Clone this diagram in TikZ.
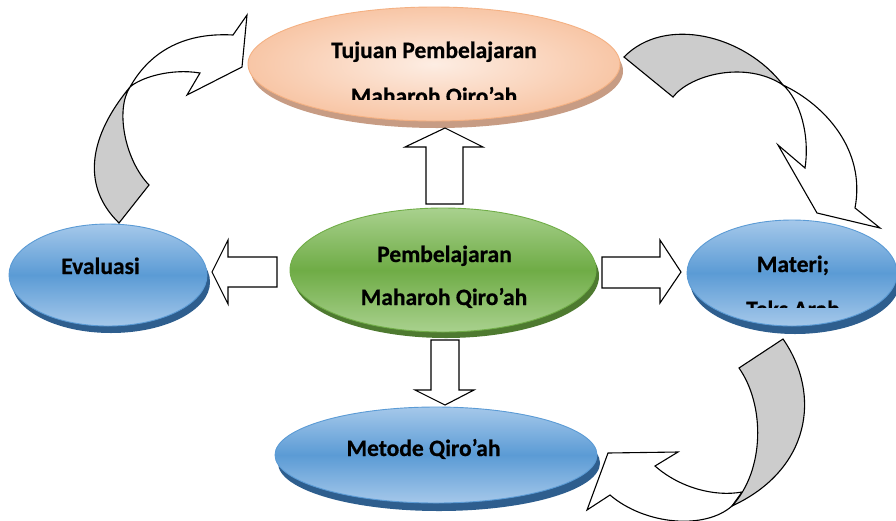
\documentclass[tikz,border=0pt]{standalone}
\usepackage{fontspec}
\setmainfont{Carlito}[BoldFeatures={FakeBold=0.6}]
\usetikzlibrary{shapes.geometric}
\definecolor{bTop}{HTML}{A5C8EA}
\definecolor{bMid}{HTML}{5B9BD5}
\definecolor{bLine}{HTML}{5B9BD5}
\definecolor{bShadow}{HTML}{2E5E8E}
\definecolor{gTop}{HTML}{A9D18E}
\definecolor{gMid}{HTML}{6FAC46}
\definecolor{gLine}{HTML}{70AD47}
\definecolor{gShadow}{HTML}{4E7A30}
\definecolor{pIn}{HTML}{FDEDE3}
\definecolor{pOut}{HTML}{F8C6A6}
\definecolor{pLine}{HTML}{F4B183}
\definecolor{pShadow}{HTML}{C79C84}
\definecolor{arrGray}{HTML}{CCCCCC}
\begin{document}
\begin{tikzpicture}[x=1pt,y=-1pt,
  ell/.style={ellipse, inner sep=0pt, line width=0.9pt},
  bluefill/.style={top color=bTop, bottom color=bTop, middle color=bMid, draw=bLine},
  greenfill/.style={top color=gTop, bottom color=gTop, middle color=gMid, draw=gLine},
  peachfill/.style={inner color=pIn, outer color=pOut, draw=pLine},
  shad/.style={ellipse, inner sep=0pt, draw=none},
  lbl/.style={font=\fontsize{23.5}{28}\selectfont\bfseries, inner sep=0pt, anchor=base, text=black},
  blk/.style={draw=black, fill=white, line width=1.1pt, line join=miter},
  curvw/.style={draw=black, fill=white, line width=1.1pt, line join=miter},
  curvg/.style={draw=black, fill=arrGray, line width=1.1pt, line join=miter}]
\useasboundingbox (0,0) rectangle (896,520);
\fill[white] (0,0) rectangle (896,520);

% ---- shadows ----
\node[shad, fill=pShadow, minimum width=372pt, minimum height=114pt] (topsh) at (437,71) {};
\node[shad, fill=gShadow, minimum width=306pt, minimum height=124pt] (censh) at (446,276) {};
\node[shad, fill=bShadow, minimum width=198pt, minimum height=102pt] (evalsh) at (111,282) {};
\node[shad, fill=bShadow, minimum width=210pt, minimum height=106pt] (matsh) at (795,281) {};
\node[shad, fill=bShadow, minimum width=322pt, minimum height=96pt] (metsh) at (439,463) {};

% ---- ellipses ----
\node[ell, peachfill, minimum width=372pt, minimum height=114pt] (tujuan) at (434,64) {};
\node[ell, greenfill, minimum width=306pt, minimum height=124pt] (pemb) at (443,270) {};
\node[ell, bluefill, minimum width=198pt, minimum height=102pt] (eval) at (108,275) {};
\node[ell, bluefill, minimum width=210pt, minimum height=106pt] (materi) at (792,273) {};
\node[ell, bluefill, minimum width=322pt, minimum height=96pt] (metode) at (436,455) {};

% ---- labels ----
\node[lbl] (t1) at (434,58) {Tujuan Pembelajaran};
\begin{scope}
  \clip (0,0) rectangle (896,99);
  \node[lbl] (t2) at (434,104) {Maharoh Qiro’ah};
\end{scope}
\node[lbl] (p1) at (444.5,262) {Pembelajaran};
\node[lbl] (p2) at (444,305) {Maharoh Qiro’ah};
\node[lbl] (e1) at (100.5,274) {Evaluasi};
\node[lbl] (m1) at (793,272) {Materi;};
\begin{scope}
  \clip (0,0) rectangle (896,307);
  \node[lbl] (m2) at (793,317) {Teks Arab};
\end{scope}
\node[lbl] (q1) at (423.5,456) {Metode Qiro’ah};

% ---- block arrows ----
\draw[blk] (426,204) -- (426,147) -- (405,147) -- (445,128) -- (483,147) -- (463,147) -- (463,204) -- cycle;
\draw[blk] (277,257) -- (228,257) -- (228,240) -- (212,272) -- (228,304) -- (228,287) -- (277,287) -- cycle;
\draw[blk] (602,257) -- (660,257) -- (660,240) -- (681,272) -- (660,303) -- (660,288) -- (602,288) -- cycle;
\draw[blk] (431,340) -- (459,340) -- (459,390) -- (474,390) -- (445,405) -- (415,390) -- (431,390) -- cycle;

% ---- curved arrow: Evaluasi -> Tujuan ----
\draw[curvw] (130,87) .. controls (148,55) and (180,32) .. (233,35) -- (247,15) -- (242,67) -- (187,95) -- (200,73)
  .. controls (170,68) and (140,78) .. (130,87) -- cycle;
\draw[curvg] (119,223) -- (149,185) .. controls (125,160) and (115,110) .. (130,87)
  .. controls (90,135) and (80,185) .. (119,223) -- cycle;

% ---- curved arrow: Tujuan -> Materi ----
\draw[curvw] (783,85) .. controls (825,105) and (866,150) .. (855,208) -- (880,228) -- (817,213) -- (778,145) -- (805,168)
  .. controls (810,135) and (800,100) .. (783,85) -- cycle;
\draw[curvg] (624,57) -- (673,97) .. controls (690,75) and (745,60) .. (783,85)
  .. controls (745,35) and (665,15) .. (624,57) -- cycle;

% ---- curved arrow: Materi -> Metode ----
\draw[curvw] (732,506) .. controls (705,530) and (645,525) .. (610,495) -- (587,510) -- (608,453) -- (678,452) -- (655,466)
  .. controls (680,488) and (715,497) .. (742,492) -- cycle;
\draw[curvg] (783,339) -- (739,368) .. controls (765,405) and (765,470) .. (732,506)
  .. controls (810,470) and (822,395) .. (783,339) -- cycle;
\end{tikzpicture}
\end{document}
